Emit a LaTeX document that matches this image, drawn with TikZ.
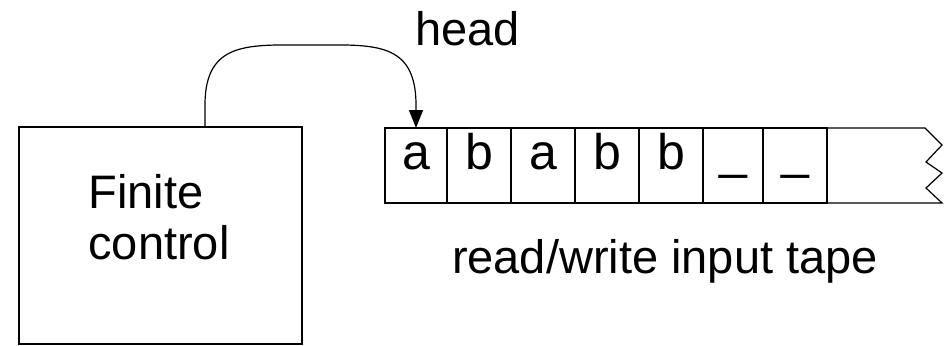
\documentclass[tikz,border=0pt]{standalone}
\usepackage{fontspec}
\setmainfont{Liberation Sans}
\usetikzlibrary{arrows.meta,positioning}
\tikzset{
  cell/.style={draw, minimum width=32pt, minimum height=37.5pt, inner sep=0pt, outer sep=0pt, text height=20.5pt, text depth=17pt, font=\fontsize{25}{28}\selectfont},
  blankcell/.style={cell, text height=20pt, text depth=17.5pt},
  bigtext/.style={font=\fontsize{23.5}{25.5}\selectfont},
}
\begin{document}
\begin{tikzpicture}[x=0.5pt, y=-0.5pt, line width=0.6pt, bigtext]
	\useasboundingbox (0,0) rectangle (947,345);
	
	% Draw finite control
	\node[draw, minimum width=141.5pt, minimum height=108.5pt, inner sep=0pt] (ctrl) at (160.5,235.5) {};
	\node[align=left, inner sep=0pt] (ctrltxt) at (159,217) {Finite\\control};
	
	% Draw tape cells
	\node[cell, minimum width=31pt] (cella) at (416,165.5) {a};
	\node[cell, right=0pt of cella] (cellb) {b};
	\node[cell, right=0pt of cellb] (cellc) {a};
	\node[cell, right=0pt of cellc] (celld) {b};
	\node[cell, right=0pt of celld] (celle) {b};
	\node[blankcell, minimum width=30pt, right=0pt of celle] (cellf) {\_};
	\node[blankcell, right=0pt of cellf] (cellg) {\_};
	
	% Open end of the tape
	\draw (cellg.north east) -- (925,128) -- (942,145) -- (926,162) -- (942,173) -- (926,188) -- (942,203) -- (cellg.south east);
	
	% Draw head arrow
	\coordinate (hstart) at (205,127); % top of control box
	\draw[-{Triangle[length=9pt,width=7pt]}] (hstart) -- (205,105) .. controls (205,40) and (250,45) .. (311,45) .. controls (372,45) and (416,40) .. (416,105) -- (cella.north);
	
	% Draw labels
	\node[anchor=base] (headlbl) at (467.5,45) {head};
	\node[anchor=base] (tapelbl) at (665,273) {read/write input tape};
\end{tikzpicture}
\end{document}
